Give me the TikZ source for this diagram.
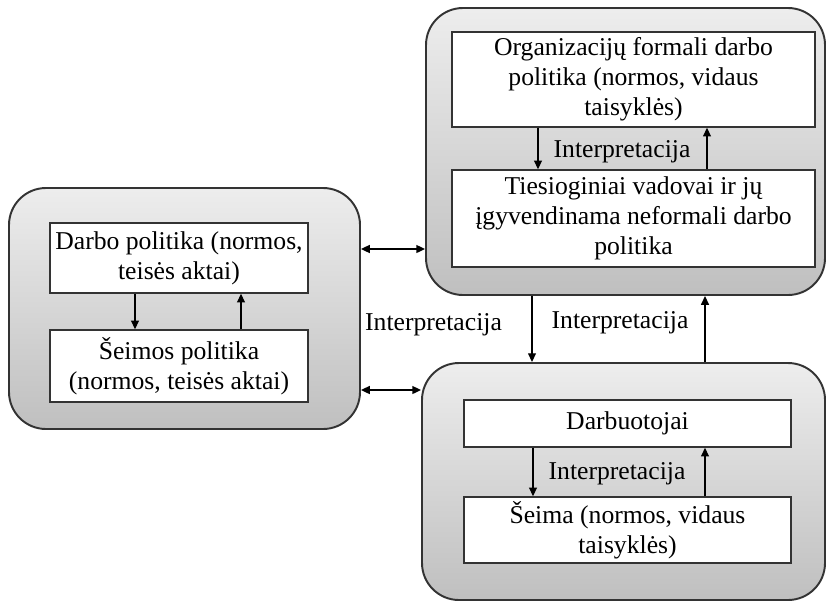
\documentclass[tikz,border=0pt]{standalone}
\usepackage{fontspec}
\setmainfont{Liberation Serif}
\usepackage{tikz}
\usetikzlibrary{arrows.meta, positioning, calc}
\definecolor{edge}{HTML}{333333}
\tikzset{
  group/.style={rectangle, rounded corners=0.74cm, draw=edge, line width=1.1pt,
                top color=black!7, bottom color=black!25},
  inbox/.style={rectangle, draw=edge, line width=0.8pt, fill=white,
                align=center, inner sep=2pt},
  arr/.style={-{Triangle[length=5pt, width=4.5pt]}, line width=0.7pt},
  dblarr/.style={{Triangle[length=5pt, width=4.5pt]}-{Triangle[length=5pt, width=4.5pt]},
                 line width=1pt},
}

\begin{document}
\begin{tikzpicture}[
  font=\fontsize{14.6}{17}\selectfont,
  lbl/.style={inner sep=1pt},
]
  \useasboundingbox (0,0) rectangle (16.52,12.08);

  %% Outer groups
  \node[group, minimum width=7.02cm, minimum height=4.82cm] (law)  at (3.69,5.91) {};
  \node[group, minimum width=7.98cm, minimum height=5.74cm] (org)  at (12.51,9.05) {};
  \node[group, minimum width=8.06cm, minimum height=4.74cm] (emp)  at (12.47,2.45) {};

  %% Left group: state policy
  \node[inbox, minimum width=5.16cm, minimum height=1.4cm] (work) at (3.58,6.92)
        {Darbo politika (normos,\\teisės aktai)};
  \node[inbox, minimum width=5.16cm, minimum height=1.44cm] (fam) at (3.58,4.76)
        {Šeimos politika\\(normos, teisės aktai)};

  \draw[arr] ([xshift=-0.88cm]work.south) -- ([xshift=-0.88cm]fam.north);
  \draw[arr] ([xshift=1.24cm]fam.north)   -- ([xshift=1.24cm]work.south);

  %% Top right group: organisation
  \node[inbox, minimum width=7.26cm, minimum height=1.9cm] (formal) at (12.67,10.49)
        {Organizacijų formali darbo\\politika (normos, vidaus\\taisyklės)};
  \node[inbox, minimum width=7.26cm, minimum height=1.94cm] (lead) at (12.67,7.71)
        {Tiesioginiai vadovai ir jų\\įgyvendinama neformali darbo\\politika};

  \draw[arr] ([xshift=-1.91cm]formal.south) -- ([xshift=-1.91cm]lead.north);
  \draw[arr] ([xshift=1.47cm]lead.north)    -- ([xshift=1.47cm]formal.south);
  \node[lbl] (i1) at (12.44,9.04) {Interpretacija};

  %% Bottom right group: employees
  \node[inbox, minimum width=6.54cm, minimum height=0.94cm] (staff) at (12.55,3.61)
        {Darbuotojai};
  \node[inbox, minimum width=6.54cm, minimum height=1.32cm] (home) at (12.55,1.48)
        {Šeima (normos, vidaus\\taisyklės)};

  \draw[arr] ([xshift=-1.89cm]staff.south) -- ([xshift=-1.89cm]home.north);
  \draw[arr] ([xshift=1.55cm]home.north)   -- ([xshift=1.55cm]staff.south);
  \node[lbl] (i2) at (12.34,2.6) {Interpretacija};

  %% Between groups
  \draw[arr] ([xshift=-1.87cm]org.south) -- ([xshift=-1.87cm]org.south |- emp.north);
  \draw[arr] ([xshift=1.59cm]org.south |- emp.north) -- ([xshift=1.59cm]org.south);
  \node[lbl] (i3) at (12.4,5.62) {Interpretacija};
  \node[lbl] (i4) at (8.67,5.58) {Interpretacija};

  \draw[dblarr] ([yshift=1.19cm]law.east)  -- ([yshift=1.19cm]law.east -| org.west);
  \draw[dblarr] ([yshift=-1.63cm]law.east) -- ([yshift=-1.63cm]law.east -| emp.west);

\end{tikzpicture}
\end{document}
